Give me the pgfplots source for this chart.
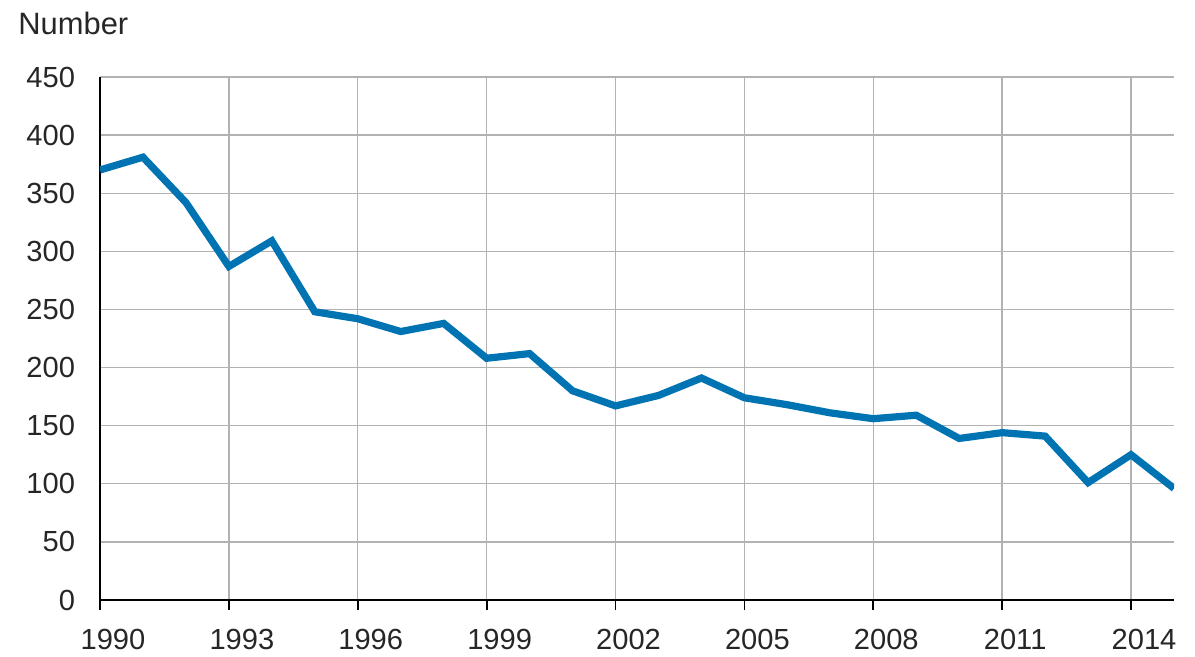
\documentclass[border=0pt]{standalone}
\usepackage{pgfplots}
\pgfplotsset{compat=1.18}
\usepackage{fontspec}
\setmainfont{Liberation Sans}
\definecolor{lineblue}{RGB}{0,115,178}
\begin{document}
\begin{tikzpicture}
\path[use as bounding box] (-50bp,-28.5bp) rectangle (547.5bp,300bp);
\begin{axis}[
  name=ax,
  at={(0,0)}, anchor=south west,
  scale only axis,
  width=537bp, height=261.5bp,
  xmin=1990, xmax=2015,
  ymin=0, ymax=450,
  xtick={1990,1993,...,2014},
  ytick={0,50,...,450},
  axis x line*=bottom,
  axis y line*=left,
  axis line style={black, line width=1bp, -},
  xmajorgrids, ymajorgrids,
  major grid style={gray!60, line width=0.7bp},
  tick align=outside,
  major tick length=5bp,
  xtick style={black, line width=0.9bp},
  ytick style={draw=none},
  /pgf/number format/assume math mode=true,
  /pgf/number format/1000 sep={},
  tick label style={font=\fontsize{14.6}{16}\selectfont, text=black!85},
  xticklabel style={xshift=6.5bp, yshift=-6bp},
  yticklabel style={xshift=-4bp},
  clip=true,
]
\addplot[lineblue, line width=3.6bp, line join=miter] coordinates {
(1990,370) (1991,381) (1992,342) (1993,287) (1994,309) (1995,248)
(1996,242) (1997,231) (1998,238) (1999,208) (2000,212) (2001,180)
(2002,167) (2003,176) (2004,191) (2005,174) (2006,168) (2007,161)
(2008,156) (2009,159) (2010,139) (2011,144) (2012,141) (2013,101)
(2014,125) (2015,96)
};
\end{axis}
\node[anchor=base west, inner sep=0pt, font=\fontsize{15.5}{17}\selectfont, text=black!85]
  at ([xshift=-41bp, yshift=21.5bp]ax.north west) {Number};
\end{tikzpicture}
\end{document}
